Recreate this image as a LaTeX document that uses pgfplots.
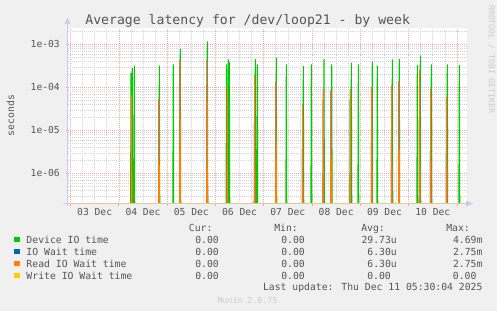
\documentclass[border=0pt]{standalone}
\usepackage{pgfplots}
\pgfplotsset{compat=1.18}
\usepackage{fontspec}
\setmainfont{DejaVu Sans Mono}
\definecolor{bg}{HTML}{F0F0F0}
\definecolor{cgreen}{HTML}{00CC00}
\definecolor{cblue}{HTML}{0066B3}
\definecolor{corange}{HTML}{FF8000}
\definecolor{cyellow}{HTML}{FFCC00}
\definecolor{txt}{HTML}{555555}
\definecolor{gridred}{HTML}{EEA8A8}
\definecolor{gridgray}{HTML}{D2D2D2}
\definecolor{axblue}{HTML}{C8CCF4}
\definecolor{axtan}{HTML}{E4C88C}
\definecolor{faint}{HTML}{CCCCCC}
\newcommand\lf{\fontsize{9.8}{11}\selectfont}
\begin{document}
\begin{tikzpicture}
\fill[bg] (0,0) rectangle (497bp,311bp);
\begin{axis}[
  at={(68bp,107.5bp)}, anchor=south west, scale only axis,
  width=399bp, height=175.5bp,
  xmin=-0.0518, xmax=8.209,
  ymode=log, ymin=1.99e-7, ymax=2.4e-3,
  axis background/.style={fill=white},
  axis line style={draw=none},
  xtick={0,1,2,3,4,5,6,7,8}, xticklabels={},
  minor x tick num=3,
  ytick={1e-6,1e-5,1e-4,1e-3}, yticklabels={1e-06,1e-05,1e-04,1e-03},
  minor ytick={3e-7,4e-7,5e-7,6e-7,7e-7,8e-7,9e-7,
    2e-6,3e-6,4e-6,5e-6,6e-6,7e-6,8e-6,9e-6,
    2e-5,3e-5,4e-5,5e-5,6e-5,7e-5,8e-5,9e-5,
    2e-4,3e-4,4e-4,5e-4,6e-4,7e-4,8e-4,9e-4,2e-3},
  grid=both,
  major grid style={gridred, dash pattern=on 1bp off 1bp, line width=0.6bp},
  minor grid style={gridgray, dash pattern=on 1bp off 1bp, line width=0.6bp},
  tick align=outside, xtick pos=bottom, ytick pos=left,
  major tick length=2.5bp, minor tick length=0pt,
  major tick style={gridred, line width=0.8bp, solid},
  extra x ticks={0.5,1.5,2.5,3.5,4.5,5.5,6.5,7.5},
  extra x tick labels={03 Dec,04 Dec,05 Dec,06 Dec,07 Dec,08 Dec,09 Dec,10 Dec},
  extra x tick style={grid=none, major tick length=0pt},
  tick label style={font=\fontsize{9.7}{11}\selectfont, text=txt},
  xticklabel style={anchor=north, inner sep=0pt, yshift=-5bp},
  yticklabel style={anchor=east, inner sep=0pt, xshift=-5.5bp},
]
\addplot[cgreen, line width=1.05bp] coordinates {
(1.238,1e-9) (1.253,2.2e-4) (1.268,1e-9)
(1.265,1e-9) (1.280,2.8e-4) (1.295,1e-9)
(1.306,1e-9) (1.321,3.2e-4) (1.336,1e-9)
(1.824,1e-9) (1.839,3.2e-4) (1.854,1e-9)
(2.113,1e-9) (2.128,3.4e-4) (2.143,1e-9)
(2.258,1e-9) (2.273,7.9e-4) (2.288,1e-9)
(2.817,1e-9) (2.832,1.17e-3) (2.847,1e-9)
(3.215,1e-9) (3.230,3.4e-4) (3.245,1e-9)
(3.252,1e-9) (3.267,4.5e-4) (3.282,1e-9)
(3.273,1e-9) (3.288,3.9e-4) (3.303,1e-9)
(3.811,1e-9) (3.826,4.6e-4) (3.841,1e-9)
(3.852,1e-9) (3.867,3.4e-4) (3.882,1e-9)
(4.246,1e-9) (4.261,4.9e-4) (4.276,1e-9)
(4.453,1e-9) (4.468,3.4e-4) (4.483,1e-9)
(4.805,1e-9) (4.820,3.1e-4) (4.835,1e-9)
(4.971,1e-9) (4.986,3.4e-4) (5.001,1e-9)
(5.233,1e-9) (5.248,4.5e-4) (5.263,1e-9)
(5.393,1e-9) (5.408,3.4e-4) (5.423,1e-9)
(5.799,1e-9) (5.814,3.75e-4) (5.829,1e-9)
(5.944,1e-9) (5.959,3.4e-4) (5.974,1e-9)
(6.233,1e-9) (6.248,4.0e-4) (6.263,1e-9)
(6.337,1e-9) (6.352,3.2e-4) (6.367,1e-9)
(6.648,1e-9) (6.663,4.5e-4) (6.678,1e-9)
(6.792,1e-9) (6.807,4.6e-4) (6.822,1e-9)
(7.165,1e-9) (7.180,3.3e-4) (7.195,1e-9)
(7.227,1e-9) (7.242,5.5e-4) (7.257,1e-9)
(7.455,1e-9) (7.470,3.4e-4) (7.485,1e-9)
(7.786,1e-9) (7.801,3.4e-4) (7.816,1e-9)
(8.035,1e-9) (8.050,3.3e-4) (8.065,1e-9)
};
\addplot[cblue, line width=1.05bp] coordinates {
(1.252,1e-9) (1.267,6.8e-5) (1.282,1e-9)
(1.817,1e-9) (1.832,5.3e-5) (1.847,1e-9)
(2.253,1e-9) (2.268,4.5e-4) (2.283,1e-9)
(2.813,1e-9) (2.828,4.4e-4) (2.843,1e-9)
(3.231,1e-9) (3.246,1.05e-4) (3.261,1e-9)
(3.798,1e-9) (3.813,1.9e-4) (3.828,1e-9)
(4.240,1e-9) (4.255,1.3e-4) (4.270,1e-9)
(4.792,1e-9) (4.807,4.0e-5) (4.822,1e-9)
(5.219,1e-9) (5.234,9e-5) (5.249,1e-9)
(5.378,1e-9) (5.393,8.5e-5) (5.408,1e-9)
(5.778,1e-9) (5.793,9e-5) (5.808,1e-9)
(6.221,1e-9) (6.236,1.0e-4) (6.251,1e-9)
(6.635,1e-9) (6.650,1.1e-4) (6.665,1e-9)
(6.786,1e-9) (6.801,1.4e-4) (6.816,1e-9)
(7.214,1e-9) (7.229,2.5e-4) (7.244,1e-9)
(7.443,1e-9) (7.458,9e-5) (7.473,1e-9)
(7.774,1e-9) (7.789,6e-5) (7.804,1e-9)
};
\addplot[corange, line width=1.05bp] coordinates {
(1.252,1e-9) (1.267,6.8e-5) (1.282,1e-9)
(1.817,1e-9) (1.832,5.3e-5) (1.847,1e-9)
(2.253,1e-9) (2.268,4.5e-4) (2.283,1e-9)
(2.813,1e-9) (2.828,4.4e-4) (2.843,1e-9)
(3.231,1e-9) (3.246,1.05e-4) (3.261,1e-9)
(3.798,1e-9) (3.813,1.9e-4) (3.828,1e-9)
(4.240,1e-9) (4.255,1.3e-4) (4.270,1e-9)
(4.792,1e-9) (4.807,4.0e-5) (4.822,1e-9)
(5.219,1e-9) (5.234,9e-5) (5.249,1e-9)
(5.378,1e-9) (5.393,8.5e-5) (5.408,1e-9)
(5.778,1e-9) (5.793,9e-5) (5.808,1e-9)
(6.221,1e-9) (6.236,1.0e-4) (6.251,1e-9)
(6.635,1e-9) (6.650,1.1e-4) (6.665,1e-9)
(6.786,1e-9) (6.801,1.4e-4) (6.816,1e-9)
(7.214,1e-9) (7.229,2.5e-4) (7.244,1e-9)
(7.443,1e-9) (7.458,9e-5) (7.473,1e-9)
(7.774,1e-9) (7.789,6e-5) (7.804,1e-9)
};
\addplot[cyellow, line width=0.9bp] coordinates {(-0.0518,1.99e-7) (8.209,1.99e-7)};
\end{axis}
\begin{scope}[x=1bp,y=1bp]
% axes
\draw[axblue, line width=1bp] (67.5,105) -- (67.5,287);
\fill[axblue] (64.5,287) -- (70.5,287) -- (67.5,293) -- cycle;
\draw[axblue, line width=1bp] (63,107.5) -- (68,107.5);
\draw[axtan, line width=1bp] (68,107.5) -- (466,107.5);
\fill[axblue] (466,104.5) -- (466,110.5) -- (473,107.5) -- cycle;
% title and side texts
\node[anchor=base, inner sep=0, text=txt, font=\fontsize{13.2}{15}\selectfont] at (247.7,286.5) {Average latency for /dev/loop21 - by week};
\node[rotate=90, inner sep=0, text=txt, font=\lf] at (10.5,195.5) {seconds};
\node[rotate=-90, anchor=west, inner sep=0, text=faint, font=\fontsize{8.2}{9}\selectfont] at (491.5,306) {RRDTOOL / TOBI OETIKER};
% legend header
\node[anchor=base east, inner sep=0, text=txt, font=\lf] at (212.7,79.5) {Cur:};
\node[anchor=base east, inner sep=0, text=txt, font=\lf] at (298,79.5) {Min:};
\node[anchor=base east, inner sep=0, text=txt, font=\lf] at (385,79.5) {Avg:};
\node[anchor=base east, inner sep=0, text=txt, font=\lf] at (470,79.5) {Max:};
% rows
\fill[cgreen] (14,68.5) rectangle (20,74);
\fill[cblue] (14,56.5) rectangle (20,62);
\fill[corange] (14,44.5) rectangle (20,50);
\fill[cyellow] (14,32.5) rectangle (20,38);
\node[anchor=base west, inner sep=0, text=txt, font=\lf] at (26.3,68) {Device IO time};
\node[anchor=base west, inner sep=0, text=txt, font=\lf] at (26.3,56) {IO Wait time};
\node[anchor=base west, inner sep=0, text=txt, font=\lf] at (26.3,44) {Read IO Wait time};
\node[anchor=base west, inner sep=0, text=txt, font=\lf] at (26.3,32) {Write IO Wait time};
\foreach \yy in {68,56,44,32} {
  \node[anchor=base east, inner sep=0, text=txt, font=\lf] at (219,\yy) {0.00};
  \node[anchor=base east, inner sep=0, text=txt, font=\lf] at (305,\yy) {0.00};
}
\node[anchor=base east, inner sep=0, text=txt, font=\lf] at (397,68) {29.73u};
\node[anchor=base east, inner sep=0, text=txt, font=\lf] at (397,56) {6.30u};
\node[anchor=base east, inner sep=0, text=txt, font=\lf] at (397,44) {6.30u};
\node[anchor=base east, inner sep=0, text=txt, font=\lf] at (391,32) {0.00};
\node[anchor=base east, inner sep=0, text=txt, font=\lf] at (482.7,68) {4.69m};
\node[anchor=base east, inner sep=0, text=txt, font=\lf] at (482.7,56) {2.75m};
\node[anchor=base east, inner sep=0, text=txt, font=\lf] at (482.7,44) {2.75m};
\node[anchor=base east, inner sep=0, text=txt, font=\lf] at (476.7,32) {0.00};
\node[anchor=base east, inner sep=0, text=txt, font=\lf] at (482.7,20.5) {Last update: Thu Dec 11 05:30:04 2025};
\node[anchor=base, inner sep=0, text=faint, font=\fontsize{8.3}{9}\selectfont] at (247.5,8) {Munin 2.0.75};
\end{scope}
\end{tikzpicture}
\end{document}
